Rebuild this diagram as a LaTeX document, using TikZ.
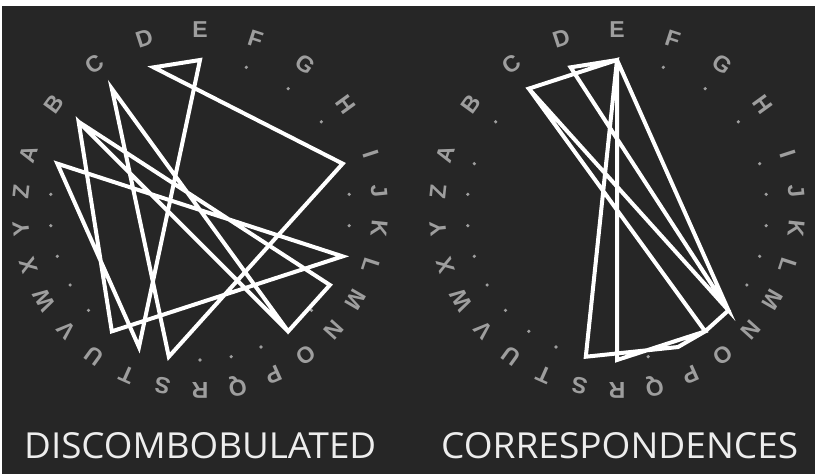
\documentclass[tikz,border=0pt]{standalone}
\usepackage{fontspec}
\usepackage{graphicx}
\newfontfamily\ringfont{Liberation Sans}
\newfontfamily\wordfont{Open Sans}
\definecolor{bg}{HTML}{262626}
\definecolor{ring}{HTML}{9E9E9E}
\definecolor{wordcol}{HTML}{EDEDED}
\tikzset{
  letter/.style={font=\ringfont\bfseries\fontsize{23}{23}\selectfont, text=ring, inner sep=0pt, anchor=center},
  strand/.style={draw=white, line width=4pt, line join=miter, miter limit=8},
  word/.style={text=wordcol, inner sep=0pt, anchor=south west}
}
\begin{document}
\begin{tikzpicture}[x=1pt,y=-1pt]
\useasboundingbox (0,0) rectangle (815,474);
\fill[white] (0,0) rectangle (815,474);
\fill[bg] (2,6) rectangle (815,474);
\foreach \side/\cx in {l/200,r/617}{
  \foreach \ch [count=\n from 0] in {A,B,C,D,E,F,G,H,I,J,K,L,M,N,O,P,Q,R,S,T,U,V,W,X,Y,Z}{
    \pgfmathsetmacro\ang{\n<=8 ? 162-18*\n : 114-12*\n}
    \coordinate (\side\ch) at ({\cx+150*cos(\ang)},{210-150*sin(\ang)});
    \fill[ring] (\side\ch) circle (1.8);
    \node[letter, rotate=\ang-90] (\side t\ch) at ({\cx+180*cos(\ang)},{210-180*sin(\ang)}) {\ch};
  }
}
\draw[strand] (lD) -- (lI) -- (lS) -- (lC) -- (lO) -- (lM) -- (lB) -- (lO) -- (lB) -- (lU) -- (lL) -- (lA) -- (lT) -- (lE) -- cycle;
\draw[strand] (rC) -- (rO) -- (rR) -- (rE) -- (rS) -- (rP) -- (rO) -- (rN) -- (rD) -- (rE) -- (rN) -- (rC) -- (rE) -- (rS);
\node[word] (w1) at (24,459) {\resizebox{352pt}{26pt}{\wordfont\fontsize{34}{34}\selectfont DISCOMBOBULATED}};
\node[word] (w2) at (441,459) {\resizebox{357pt}{26pt}{\wordfont\fontsize{34}{34}\selectfont CORRESPONDENCES}};
\end{tikzpicture}
\end{document}
